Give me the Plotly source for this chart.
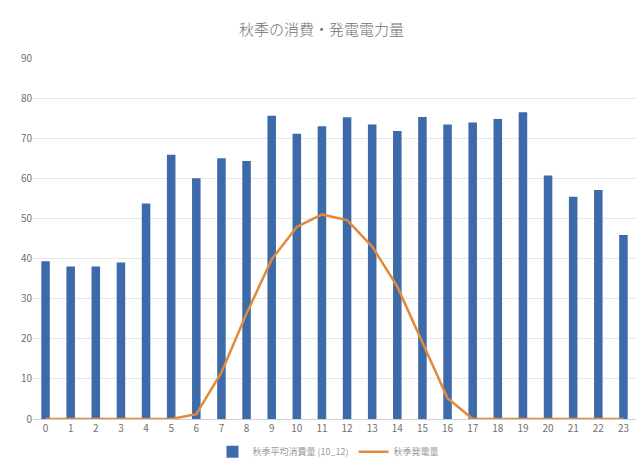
import plotly.graph_objects as go

hours = list(range(24))
consumption = [39.3, 38.0, 38.0, 39.0, 53.7, 65.9, 60.0, 65.0, 64.3, 75.6, 71.1, 73.0,
               75.2, 73.4, 71.8, 75.3, 73.4, 73.9, 74.8, 76.5, 60.7, 55.4, 57.1, 45.9]
generation = [0, 0, 0, 0, 0, 0, 1.2, 11.6, 26.3, 39.8, 47.9, 51.0,
              49.6, 43.0, 33.0, 18.9, 5.2, 0, 0, 0, 0, 0, 0, 0]
y_ticks = list(range(0, 91, 10))

title_text = "秋季の消費・発電電力量"
bar_name = "秋季平均消費量 (10_12)"
line_name = "秋季発電量"

font_family = "Noto Sans CJK JP, Noto Sans, sans-serif"

fig = go.Figure()
fig.add_trace(go.Bar(
    x=hours, y=consumption, name=bar_name,
    marker=dict(color="#3d6baa", line=dict(width=0)),
    width=0.34,
))
fig.add_trace(go.Scatter(
    x=hours, y=generation, name=line_name, mode="lines",
    line=dict(color="#e3893b", width=2.5),
))

fig.update_layout(
    width=643, height=462,
    margin=dict(l=33, r=7, t=58, b=43, autoexpand=False),
    paper_bgcolor="white", plot_bgcolor="white",
    font=dict(family=font_family, color="#7a7a7a", size=10),
    title=dict(text=title_text, x=0.5, xanchor="center", y=0.935, yanchor="middle",
               font=dict(size=15, color="#707070", family=font_family, weight=300)),
    showlegend=True,
    legend=dict(orientation="h", x=0.49, xanchor="center",
                yref="container", y=0.022, yanchor="middle",
                font=dict(size=9, color="#9a9a9a"),
                bgcolor="rgba(0,0,0,0)"),
    bargap=0.6,
)
fig.update_xaxes(
    tickmode="array", tickvals=hours, ticktext=[str(h) for h in hours],
    range=[-0.5, 23.5], showgrid=False, zeroline=False,
    showline=True, linecolor="#d0d0d0", linewidth=1,
    ticks="", tickfont=dict(size=10, color="#707070"),
)
fig.update_yaxes(
    tickmode="array", tickvals=y_ticks, range=[0, 90],
    showgrid=True, gridcolor="#e6e6e6", gridwidth=1,
    zeroline=False, showline=False, ticks="",
    tickfont=dict(size=10, color="#707070"),
)

fig.write_html("out.html")
